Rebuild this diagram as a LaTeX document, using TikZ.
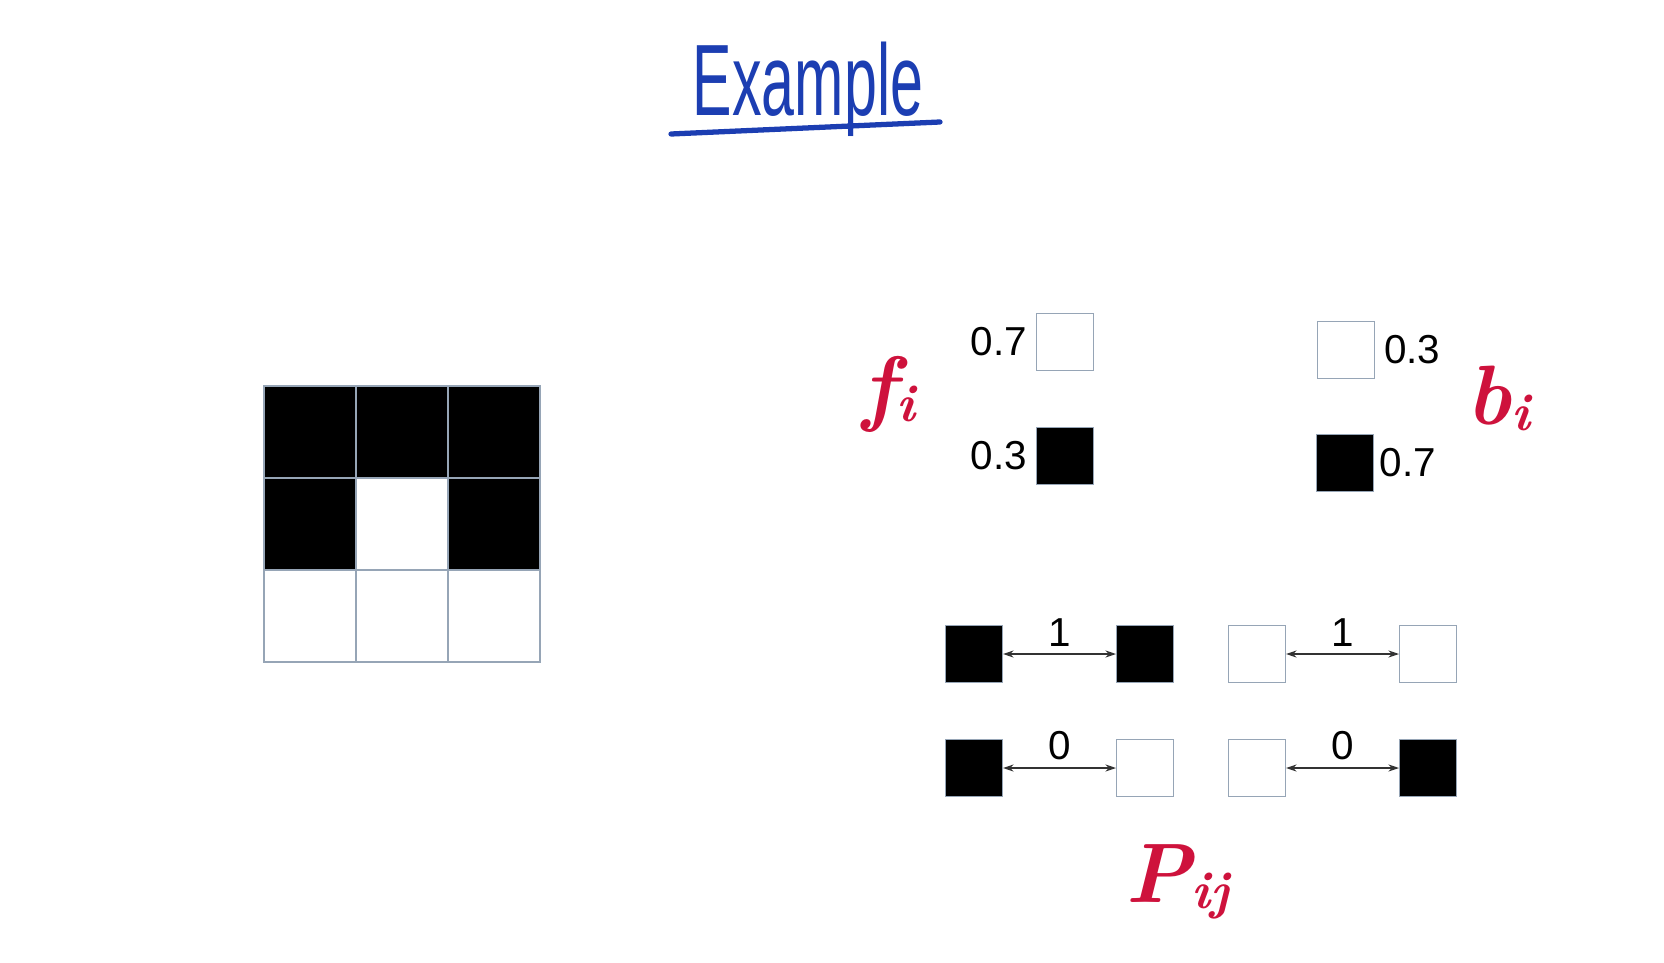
\documentclass[tikz,border=0pt]{standalone}
\usepackage{fontspec}
\newfontfamily\numfont{Liberation Sans}
\usetikzlibrary{arrows.meta,positioning}
\definecolor{penblue}{RGB}{28,62,178}
\definecolor{penred}{RGB}{206,18,60}
\definecolor{edgegray}{RGB}{150,165,182}
\newcommand{\handsub}[1]{\raisebox{-0.08em}{\fontsize{30}{30}\selectfont #1}}

\begin{document}
\begin{tikzpicture}[x=0.02cm, y=-0.02cm,
	pix/.style={draw=edgegray, line width=0.6pt, minimum size=1.14cm, inner sep=0pt},
	cell/.style={draw=edgegray, line width=0.8pt, minimum size=1.84cm, inner sep=0pt},
	num/.style={font=\numfont\fontsize{23}{26}\selectfont, inner sep=1pt},
	link/.style={draw=black!80, line width=0.7pt,
		{Stealth[length=6pt,width=4pt]}-{Stealth[length=6pt,width=4pt]}},
	hand/.style={anchor=base west, inner sep=0pt, text=penred,
		font=\fontsize{48}{52}\selectfont\bfseries\itshape}]
	\useasboundingbox (0,0) rectangle (1664,963);

	% title
	\node[anchor=base, text=penblue, font=\numfont\fontsize{33}{36}\selectfont] (title) at (808,116) {\scalebox{1.02}[1.75]{Example}};
	\draw[penblue, line width=3pt, line cap=round] (671,134) -- (940,122);

	% 3x3 image
	\foreach \tone [count=\k from 0] in {black,black,black,black,white,black,white,white,white} {
		\pgfmathtruncatemacro\r{div(\k,3)}
		\pgfmathtruncatemacro\c{mod(\k,3)}
		\node[cell, fill=\tone] (g\k) at (310+92*\c, 432+92*\r) {};
	}

	% foreground f_i
	\node[pix, fill=white] (fw) at (1065,342) {};
	\node[pix, fill=black] (fb) at (1065,456) {};
	\node[num, left=4pt of fw] (fwv) {0.7};
	\node[num, left=4pt of fb] (fbv) {0.3};
	\node[hand] (fi) at (862,415) {f\handsub{i}};

	% background b_i
	\node[pix, fill=white] (bw) at (1346,350) {};
	\node[pix, fill=black] (bb) at (1345,463) {};
	\node[num, right=4pt of bw] (bwv) {0.3};
	\node[num, right=2pt of bb] (bbv) {0.7};
	\node[hand] (bi) at (1466,424) {b\handsub{i}};

	% pairwise terms
	\foreach \ta/\tb/\v/\x/\y [count=\n] in {black/black/1/974/654, white/white/1/1257/654,
		black/white/0/974/768, white/black/0/1257/768} {
		\node[pix, fill=\ta] (p\n a) at (\x,\y) {};
		\node[pix, fill=\tb, right=2.26cm of p\n a] (p\n b) {};
		\draw[link] (p\n a) -- node[num, above=3pt] (w\n) {\v} (p\n b);
	}
	\node[hand] (pij) at (1125,902) {P\handsub{ij}};
\end{tikzpicture}
\end{document}
